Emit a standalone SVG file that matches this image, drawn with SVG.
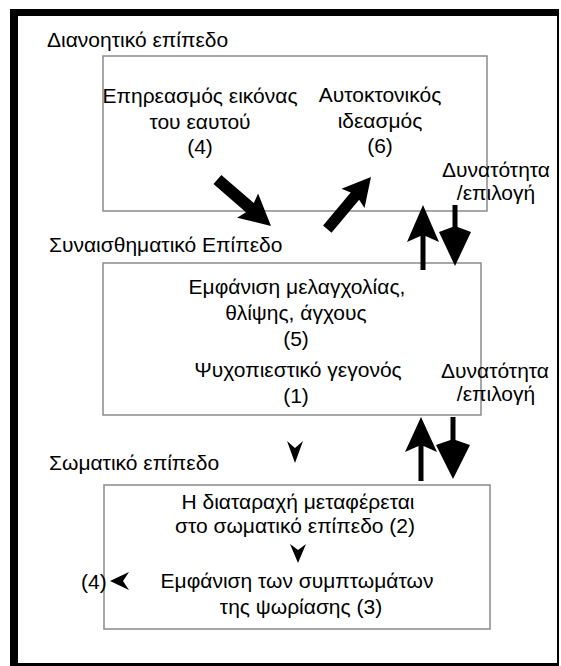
<svg xmlns="http://www.w3.org/2000/svg" width="561" height="666" viewBox="0 0 561 666">
  <style>
    text { font-family: "Liberation Sans", Arial, sans-serif; font-size: 21px; fill: #000; }
    .c { text-anchor: middle; }
    .box { fill: #fff; stroke: #8a8a8a; stroke-width: 1.5; }
    .arr { fill: #000; stroke: none; }
  </style>

  <!-- page -->
  <rect x="0" y="0" width="561" height="666" fill="#fff"/>
  <!-- outer frame -->
  <g id="frame" fill="#000">
    <rect x="10" y="9" width="8" height="657"/>
    <rect x="10" y="9" width="549" height="7"/>
    <rect x="557" y="9" width="2" height="657"/>
    <rect x="10" y="663" width="549" height="3"/>
  </g>

  <!-- level labels -->
  <g id="levels">
    <text x="47" y="47">Διανοητικό επίπεδο</text>
    <text x="49" y="252">Συναισθηματικό Επίπεδο</text>
    <text x="49" y="470">Σωματικό επίπεδο</text>
  </g>

  <!-- cognitive level -->
  <g id="cognitive">
    <rect class="box" x="103" y="56" width="384" height="155"/>
    <g id="self-image">
      <text class="c" x="200" y="103">Επηρεασμός εικόνας</text>
      <text class="c" x="200" y="129">του εαυτού</text>
      <text class="c" x="200" y="154">(4)</text>
    </g>
    <g id="ideation">
      <text class="c" x="380" y="102">Αυτοκτονικός</text>
      <text class="c" x="380" y="128">ιδεασμός</text>
      <text class="c" x="380" y="153">(6)</text>
    </g>
  </g>

  <!-- emotional level -->
  <g id="emotional">
    <rect class="box" x="103" y="263" width="378" height="152"/>
    <text class="c" x="297" y="294">Εμφάνιση μελαγχολίας,</text>
    <text class="c" x="296" y="320">θλίψης, άγχους</text>
    <text class="c" x="296" y="346">(5)</text>
    <text class="c" x="298" y="377">Ψυχοπιεστικό γεγονός</text>
    <text class="c" x="296" y="403">(1)</text>
  </g>

  <!-- somatic level -->
  <g id="somatic">
    <rect class="box" x="104" y="485" width="386" height="144"/>
    <text class="c" x="298" y="509">Η διαταραχή μεταφέρεται</text>
    <text class="c" x="295" y="533">στο σωματικό επίπεδο (2)</text>
    <text class="c" x="297" y="588">Εμφάνιση των συμπτωμάτων</text>
    <text class="c" x="301" y="614">της ψωρίασης (3)</text>
  </g>

  <!-- choice labels -->
  <g id="choice-upper">
    <text class="c" x="496" y="177">Δυνατότητα</text>
    <text class="c" x="496" y="200">/επιλογή</text>
  </g>
  <g id="choice-lower">
    <text class="c" x="495" y="378">Δυνατότητα</text>
    <text class="c" x="496" y="401">/επιλογή</text>
  </g>
  <text id="back-ref" x="81" y="589">(4)</text>

  <!-- connectors -->
  <g id="connectors" class="arr">
    <!-- diagonal block arrows -->
    <path transform="translate(271,226) rotate(41)" d="M0,0 L-31,-16 L-28,-6 L-71,-6 L-71,6 L-28,6 L-31,16 Z"/>
    <path transform="translate(371,177) rotate(-50)" d="M0,0 L-28,-15 L-25,-5.5 L-68,-5.5 L-68,5.5 L-25,5.5 L-28,15 Z"/>
    <!-- vertical arrows between cognitive and emotional levels -->
    <path d="M423,205 L439,242 L425.5,236 L425.5,270 L420.5,270 L420.5,236 L407,242 Z"/>
    <path d="M455,266 L471,232 L457.5,227 L457.5,205 L452.5,205 L452.5,227 L439,232 Z"/>
    <!-- vertical arrows between emotional and somatic levels -->
    <path d="M421,417 L437,452 L423.5,446 L423.5,481 L418.5,481 L418.5,446 L405,452 Z"/>
    <path d="M453,479 L470,445 L455.5,440 L455.5,417 L450.5,417 L450.5,440 L436,445 Z"/>
    <!-- small arrowheads -->
    <path d="M295,463 L303,441 L295,448 L287,441 Z"/>
    <path d="M298,563 L306,544 L298,550 L290,544 Z"/>
    <path d="M110,581 L129,572 L123,581 L129,590 Z"/>
  </g>
</svg>
